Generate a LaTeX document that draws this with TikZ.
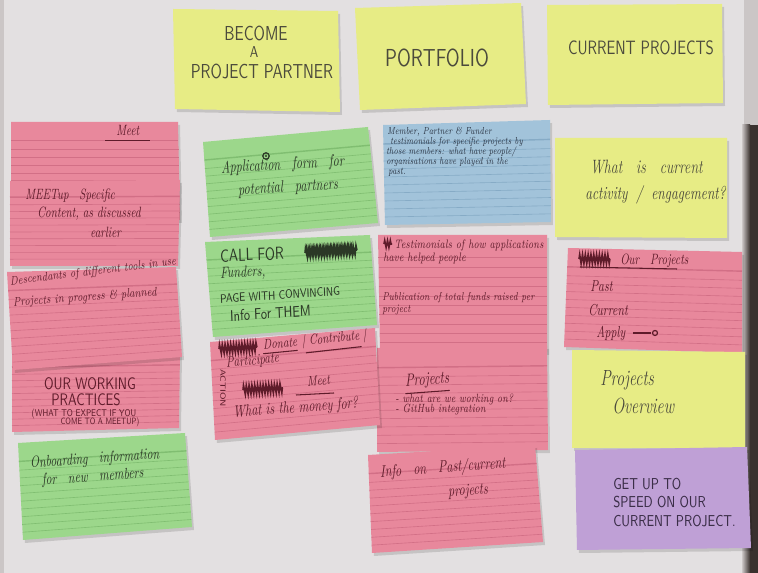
\documentclass[tikz,border=0pt]{standalone}
\usepackage{graphicx}
\usetikzlibrary{calc,decorations.pathmorphing}

\definecolor{paper}{HTML}{E3E0E1}
\definecolor{paperedge}{HTML}{CBC6C6}
\definecolor{boardedge}{HTML}{3A312E}
\definecolor{pinkcard}{HTML}{E8889C}
\definecolor{pinkrule}{HTML}{D26F86}
\definecolor{greencard}{HTML}{9CD78B}
\definecolor{greenrule}{HTML}{80BE71}
\definecolor{bluecard}{HTML}{A2C3DA}
\definecolor{bluerule}{HTML}{86ABC6}
\definecolor{purplecard}{HTML}{BFA0D6}
\definecolor{stickyyellow}{HTML}{E7EC85}
\definecolor{pencil}{HTML}{4B4A3C}
\definecolor{redink}{HTML}{5E1B2A}
\definecolor{greenink}{HTML}{2B3826}
\definecolor{blueink}{HTML}{27303F}
\definecolor{purpleink}{HTML}{3B2E48}

% ruled index card: paper colour, rule colour, corners TL TR BR BL
\newcommand\ruledcard[6]{%
  \fill[black,opacity=0.13] ($#3+(2,3)$) -- ($#4+(2,3)$) -- ($#5+(2,3)$) -- ($#6+(2,3)$) -- cycle;
  \fill[#1] #3 -- #4 -- #5 -- #6 -- cycle;
  \foreach \t in {0.28,0.36,...,0.97}
    \draw[#2,line width=0.35pt] ($#3!\t!#6$) -- ($#4!\t!#5$);
  \draw[#2,line width=0.8pt] ($#3!0.19!#6$) -- ($#4!0.19!#5$);
}
% plain sticky note: colour, corners TL TR BR BL
\newcommand\plainnote[5]{%
  \fill[black,opacity=0.13] ($#2+(2,3)$) -- ($#3+(2,3)$) -- ($#4+(2,3)$) -- ($#5+(2,3)$) -- cycle;
  \fill[#1] #2 -- #3 -- #4 -- #5 -- cycle;
}

\begin{document}
\begin{tikzpicture}[x=0.02cm,y=-0.02cm,
  mk/.style={font=\sffamily\fontsize{#1}{#1}\selectfont, xscale=0.78, inner sep=0pt},
  pen/.style={font=\itshape\fontsize{#1}{#1}\selectfont, xscale=0.72, inner sep=0pt, anchor=west},
  scrawl/.style={decorate, decoration={zigzag, segment length=1.6pt, amplitude=#1}, line width=0.9pt},
  scrawl/.default=2.6pt,
  uline/.style={line width=0.6pt}]

% board
\fill[paper] (0,0) rectangle (758,573);
\useasboundingbox (0,0) rectangle (758,573);
\fill[paperedge] (0,0) rectangle (4,573);
\fill[paperedge] (744,0) rectangle (758,125);
\shade[left color=paperedge, right color=boardedge] (742,125) rectangle (750,573);
\fill[boardedge] (750,125) rectangle (758,573);

% ---------- header notes ----------
\plainnote{stickyyellow}{(173,9)}{(338,11)}{(340,112)}{(175,109)}
\node[mk=11.5, text=pencil] (become) at (256,33) {BECOME};
\node[mk=9, text=pencil] (becomeA) at (254,52) {A};
\node[mk=11.5, text=pencil] (partner) at (262,71) {PROJECT PARTNER};

\plainnote{stickyyellow}{(355,8)}{(521,3)}{(526,104)}{(360,110)}
\node[mk=14, text=pencil] (portfolio) at (437,58) {PORTFOLIO};

\plainnote{stickyyellow}{(547,5)}{(722,4)}{(723,103)}{(548,105)}
\node[mk=11, text=pencil] (current) at (641,48) {CURRENT PROJECTS};

% ---------- middle column ----------
\ruledcard{bluecard}{bluerule}{(383,125)}{(550,120)}{(551,222)}{(385,225)}
\begin{scope}[every node/.style={pen=5.8, text=blueink}]
\node (bl1) at (387,132) {Member, Partner \& Funder};
\node (bl2) at (390,142) {testimonials for specific projects by};
\node (bl3) at (386,152) {those members: what have people/};
\node (bl4) at (386,162) {organisations have played in the};
\node (bl5) at (388,172) {past.};
\end{scope}

\ruledcard{pinkcard}{pinkrule}{(378,235)}{(547,235)}{(547,352)}{(380,352)}
\draw[redink,scrawl=2pt] (384,244) -- (392,244);
\node[pen=7, text=redink] (testim) at (394,245) {Testimonials of how applications};
\node[pen=7, text=redink] (helped) at (383,258) {have helped people};
\node[pen=6.5, text=redink] (publi) at (382,298) {Publication of total funds raised per};
\node[pen=6.5, text=redink] (publi2) at (382,310) {project};

\ruledcard{pinkcard}{pinkrule}{(377,348)}{(547,346)}{(548,450)}{(377,452)}
\node[pen=10, text=redink, rotate=3] (projects) at (405,382) {Projects};
\draw[redink,uline] ([yshift=-2pt]projects.south west) -- ([yshift=-2pt]projects.south east);
\node[pen=6.8, text=redink] (working) at (395,399) {- what are we working on?};
\node[pen=6.8, text=redink] (github) at (395,410) {- GitHub integration};

\ruledcard{pinkcard}{pinkrule}{(368,455)}{(535,445)}{(543,542)}{(372,553)}
\node[pen=9.5, text=redink, rotate=3] (infoon) at (380,473) {Info\quad on\quad Past/current};
\node[pen=9.5, text=redink, rotate=3] (infoproj) at (448,493) {projects};

% ---------- left column ----------
\ruledcard{pinkcard}{pinkrule}{(11,122)}{(178,122)}{(180,220)}{(11,220)}
\node[pen=8.5, text=redink] (meet) at (116,130) {Meet};
\draw[redink,uline] ([xshift=-6pt,yshift=-3pt]meet.south west) -- ([xshift=6pt,yshift=-3pt]meet.south east);

\ruledcard{pinkcard}{pinkrule}{(10,181)}{(180,180)}{(178,266)}{(10,266)}
\node[pen=8.5, text=redink] (meetup) at (25,196) {MEETup\quad Specific};
\node[pen=8.5, text=redink] (content) at (37,214) {Content, as discussed};
\node[pen=8.5, text=redink] (earlier) at (90,232) {earlier};

\ruledcard{pinkcard}{pinkrule}{(12,352)}{(180,350)}{(179,428)}{(12,432)}
\node[mk=9.5, text=redink] (ourwork) at (90,384) {OUR WORKING};
\node[mk=9.5, text=redink] (practices) at (86,400) {PRACTICES};
\node[mk=5.6, text=redink] (expect) at (84,414) {(WHAT TO EXPECT IF YOU};
\node[mk=5.2, text=redink] (meetupc) at (100,422) {COME TO A MEETUP)};

\ruledcard{pinkcard}{pinkrule}{(7,272)}{(176,267)}{(182,357)}{(13,370)}
\node[pen=7, text=redink, rotate=5] (descend) at (10,282) {Descendants of different tools in use};
\node[pen=7.2, text=redink, rotate=3] (inprogress) at (13,303) {Projects in progress \& planned};

\ruledcard{greencard}{greenrule}{(18,443)}{(185,433)}{(192,527)}{(23,540)}
\node[pen=9, text=greenink, rotate=3] (onboard) at (30,464) {Onboarding\quad information};
\node[pen=9, text=greenink, rotate=3] (newmem) at (42,481) {for\quad new\quad members};

% ---------- second column ----------
\ruledcard{greencard}{greenrule}{(203,142)}{(368,127)}{(378,223)}{(210,237)}
\draw[greenink,line width=0.7pt] (266,156) circle (3.2);
\fill[greenink] (266,156) circle (1.1);
\node[pen=9.5, text=greenink, rotate=2.5] (appform) at (221,169) {Application\quad form\quad for};
\node[pen=9.5, text=greenink, rotate=2.5] (potential) at (238,191) {potential\quad partners};

\ruledcard{greencard}{greenrule}{(205,242)}{(370,235)}{(377,325)}{(213,337)}
\node[mk=10, text=greenink, anchor=west, rotate=2] (callfor) at (220,256) {CALL FOR};
\draw[greenink,scrawl] (305,253) -- (357,250);
\draw[greenink,scrawl=2pt] (306,251) -- (354,249);
\node[pen=9.2, text=greenink, rotate=2] (funders) at (220,274) {Funders,};
\node[mk=7, text=greenink, anchor=west, rotate=3] (pagewith) at (220,299) {PAGE WITH CONVINCING};
\node[mk=8.8, text=greenink, anchor=west, rotate=3] (infofor) at (230,316) {Info For THEM};

\ruledcard{pinkcard}{pinkrule}{(210,342)}{(375,328)}{(380,425)}{(215,440)}
\draw[redink,scrawl] (219,349) -- (257,347);
\node[pen=8, text=redink, rotate=4] (donate) at (263,345) {Donate};
\draw[redink,uline] ([yshift=-2pt]donate.south west) -- ([yshift=-2pt]donate.south east);
\node[pen=8, text=redink, rotate=4] (contrib) at (302,342) {| Contribute |};
\draw[redink,uline] ([xshift=2pt,yshift=-2pt]contrib.south west) -- ([xshift=-3pt,yshift=-2pt]contrib.south east);
\node[pen=8.5, text=redink, rotate=4] (particip) at (226,364) {Participate};
\node[mk=5.5, text=redink, rotate=-90] (action) at (223,388) {ACTION};
\draw[redink,scrawl] (243,390) -- (283,388);
\node[pen=8, text=redink, rotate=4] (meet2) at (307,382) {Meet};
\draw[redink,uline] (296,395) -- (334,393);
\node[pen=9.5, text=redink, rotate=3] (money) at (233,413) {What is the money for?};

% ---------- right column ----------
\plainnote{stickyyellow}{(555,138)}{(727,138)}{(727,238)}{(555,237)}
\node[pen=11, text=pencil] (whatis) at (590,167) {What\quad is\quad current};
\node[pen=10.5, text=pencil] (activity) at (585,195) {activity\; /\; engagement?};

\ruledcard{pinkcard}{pinkrule}{(568,248)}{(742,252)}{(742,353)}{(564,347)}
\draw[redink,scrawl] (579,259) -- (610,259);
\node[pen=8.5, text=redink] (ourproj) at (620,261) {Our\quad Projects};
\draw[redink,uline] (580,267) -- (677,269);
\node[pen=9, text=redink] (past) at (590,286) {Past};
\node[pen=9, text=redink] (currentp) at (588,310) {Current};
\node[pen=9, text=redink] (apply) at (596,333) {Apply};
\coordinate (applyend) at (655,333);
\draw[redink,line width=0.7pt] ([xshift=4pt]apply.east) -- ([xshift=-2.5pt]applyend);
\draw[redink,line width=0.7pt] (applyend) circle (2.5);

\plainnote{stickyyellow}{(572,350)}{(745,352)}{(745,448)}{(572,448)}
\node[pen=12.5, text=pencil] (projov) at (600,380) {Projects};
\node[pen=12.5, text=pencil] (overview) at (612,406) {Overview};

\plainnote{purplecard}{(575,450)}{(747,447)}{(751,548)}{(577,550)}
\node[mk=9, text=purpleink, anchor=west] (getup) at (613,484) {GET UP TO};
\node[mk=9, text=purpleink, anchor=west] (speed) at (613,502) {SPEED ON OUR};
\node[mk=9, text=purpleink, anchor=west] (currproj) at (613,521) {CURRENT PROJECT.};

\end{tikzpicture}
\end{document}
